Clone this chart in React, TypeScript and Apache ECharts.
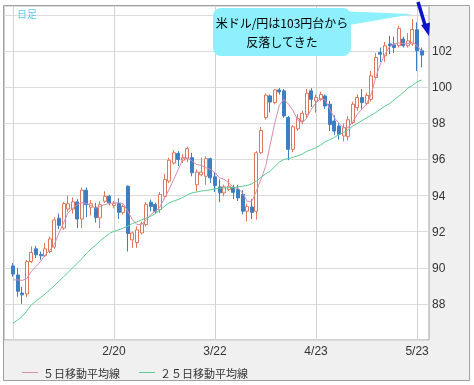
import React, { useEffect, useRef } from 'react';
import * as echarts from 'echarts';

// Daily USD/JPY candles, index 0 = 1/21 (trading days). [open, close, low, high]
const candles: number[][] = [
  [90.10, 89.65, 89.50, 90.26], [89.60, 88.70, 88.40, 89.98], [88.60, 88.50, 88.00, 88.95], [88.55, 90.35, 88.37, 90.44], [90.35, 90.85, 90.26, 91.18],
  [91.05, 90.72, 90.54, 91.22], [90.74, 90.66, 90.44, 90.90], [90.67, 91.05, 90.59, 91.37], [90.90, 91.60, 90.82, 91.74], [91.15, 92.65, 91.05, 92.80],
  [92.75, 92.35, 92.15, 93.00], [92.20, 93.55, 92.10, 93.65], [93.25, 93.55, 93.10, 94.00], [93.25, 93.65, 93.00, 93.90], [93.65, 92.70, 92.20, 93.80],
  [92.70, 94.30, 92.20, 94.45], [94.30, 93.50, 92.80, 94.45], [93.35, 93.55, 92.90, 93.75], [93.35, 92.78, 92.50, 93.60], [92.76, 93.50, 92.20, 93.68],
  [93.68, 93.96, 93.60, 94.24], [93.96, 93.60, 93.45, 94.05], [93.45, 93.55, 93.30, 93.70], [93.56, 93.07, 92.70, 93.85], [93.07, 93.40, 92.95, 93.50],
  [94.52, 91.90, 90.90, 94.56], [91.55, 91.93, 91.10, 92.00], [91.40, 92.10, 91.10, 92.30], [91.93, 92.44, 91.85, 92.55], [92.40, 93.50, 92.30, 93.65],
  [93.63, 93.40, 93.13, 93.78], [93.50, 93.13, 93.00, 93.60], [93.22, 94.06, 93.05, 94.20], [93.96, 94.90, 93.80, 95.20], [94.80, 95.96, 94.70, 96.10],
  [95.80, 96.37, 95.72, 96.52], [96.33, 96.00, 95.63, 96.46], [95.96, 96.10, 95.80, 96.30], [96.04, 96.60, 95.85, 96.70], [96.10, 95.26, 95.07, 96.37],
  [94.60, 95.30, 94.24, 95.44], [95.15, 95.30, 95.07, 96.10], [95.07, 96.04, 94.60, 96.18], [96.04, 94.98, 94.70, 96.10], [95.04, 94.56, 94.20, 95.30],
  [94.48, 94.15, 93.63, 94.90], [94.15, 94.48, 93.95, 94.60], [94.33, 94.52, 94.24, 94.93], [94.43, 94.18, 93.80, 94.60], [94.33, 93.87, 93.70, 94.60],
  [94.06, 93.13, 92.95, 94.30], [93.13, 93.40, 92.57, 93.55], [93.37, 93.07, 92.70, 93.80], [93.13, 96.37, 92.67, 96.46], [96.37, 97.60, 96.30, 97.80],
  [98.32, 99.56, 98.20, 99.65], [99.52, 99.18, 98.60, 99.60], [99.15, 99.85, 99.05, 99.90], [99.85, 99.74, 99.60, 99.95], [99.80, 98.41, 98.30, 99.90],
  [98.32, 96.56, 95.96, 98.41], [96.56, 97.81, 96.40, 97.90], [97.70, 98.26, 97.60, 98.50], [98.13, 98.56, 97.95, 98.70], [98.50, 99.67, 98.30, 99.90],
  [99.80, 99.33, 98.90, 99.95], [99.24, 99.43, 98.60, 99.60], [99.33, 99.60, 99.25, 99.75], [99.52, 98.96, 98.80, 99.60], [99.06, 97.94, 97.57, 99.24],
  [98.13, 97.57, 97.35, 98.45], [97.85, 97.39, 97.10, 98.00], [97.30, 97.76, 97.00, 98.00], [97.26, 98.20, 97.05, 98.40], [98.05, 99.06, 97.95, 99.20],
  [98.87, 99.43, 98.70, 99.60], [99.43, 99.15, 98.80, 99.90], [99.10, 99.55, 99.00, 99.70], [99.33, 100.63, 99.20, 100.90], [100.54, 101.65, 100.45, 101.90],
  [101.93, 101.83, 101.40, 102.20], [101.74, 102.30, 101.40, 102.50], [102.40, 102.30, 101.83, 102.85], [102.35, 102.20, 101.90, 102.80], [102.30, 103.26, 102.20, 103.40],
  [102.67, 102.30, 102.20, 102.80], [102.30, 102.57, 102.20, 103.00], [102.40, 103.20, 102.30, 103.78], [103.18, 102.02, 100.90, 103.60], [102.02, 101.78, 101.10, 102.20],
];

const ma5: number[] = [
  89.33, 89.33, 89.30, 89.40, 89.80, 90.07, 90.35, 90.72, 90.96, 91.28,
  91.93, 92.48, 93.04, 93.30, 93.50, 93.60, 93.57, 93.44, 93.30, 93.40,
  93.50, 93.56, 93.60, 93.60, 93.55, 93.13, 92.67, 92.39, 92.40, 92.67,
  92.94, 93.13, 93.37, 93.87, 94.33, 94.90, 95.44, 96.04, 96.10, 95.90,
  95.72, 95.67, 95.54, 95.45, 95.26, 94.98, 94.90, 94.70, 94.43, 94.40,
  94.15, 93.68, 93.68, 94.24, 94.90, 95.60, 96.80, 98.00, 99.00, 99.33,
  99.06, 98.70, 98.20, 98.04, 98.30, 98.80, 99.15, 99.37, 99.30, 98.78,
  98.30, 98.00, 97.76, 97.76, 98.10, 98.50, 98.80, 99.06, 99.60, 100.54,
  101.28, 101.83, 102.24, 102.40, 102.45, 102.42, 102.40, 102.50, 102.30, 102.00,
];

const ma25: number[] = [
  86.93, 87.10, 87.30, 87.60, 87.95, 88.15, 88.35, 88.55, 88.78, 89.00,
  89.25, 89.50, 89.75, 90.00, 90.25, 90.50, 90.80, 91.05, 91.25, 91.50,
  91.70, 91.90, 92.02, 92.10, 92.20, 92.30, 92.45, 92.55, 92.65, 92.75,
  92.85, 93.00, 93.20, 93.40, 93.60, 93.70, 93.78, 93.90, 94.05, 94.15,
  94.20, 94.25, 94.28, 94.32, 94.37, 94.40, 94.42, 94.43, 94.45, 94.48,
  94.52, 94.56, 94.65, 94.80, 95.00, 95.20, 95.35, 95.60, 95.85, 96.00,
  96.05, 96.12, 96.20, 96.30, 96.45, 96.55, 96.65, 96.80, 96.98, 97.10,
  97.22, 97.38, 97.50, 97.65, 97.85, 98.00, 98.15, 98.30, 98.45, 98.60,
  98.78, 98.95, 99.10, 99.30, 99.50, 99.70, 99.95, 100.10, 100.30, 100.40,
];

const tickIndex: number[] = [0, 22, 44, 66, 88];
const tickLabels: string[] = ['', '2/20', '3/22', '4/23', '5/23'];
const yLabelValues: number[] = [88, 90, 92, 94, 96, 98, 100, 102];
const seriesNames: string[] = ['５日移動平均線', '２５日移動平均線'];

const UP = '#e0765a';
const DOWN = '#3d7fc1';
const PINK = '#d88cae';
const GREEN = '#5ccd8f';
const CYAN = '#8ef0fd';

export default function App() {
  const ref = useRef<HTMLDivElement>(null);
  useEffect(() => {
    const chart = echarts.init(ref.current!, null, { renderer: 'svg' });
    const candleData = candles.map((c, i) => [i, c[0], c[1], c[2], c[3]]);
    chart.setOption({
      animation: false,
      grid: {
        left: 4, top: 6, width: 425, height: 334,
        show: true, backgroundColor: '#ffffff', borderColor: '#a0a0a0', borderWidth: 1,
      },
      legend: {
        data: seriesNames,
        left: 17, top: 362,
        icon: 'rect', itemWidth: 16, itemHeight: 1, itemGap: 19,
        textStyle: { color: '#333', fontSize: 11, fontFamily: 'Noto Sans CJK JP' },
      },
      xAxis: {
        type: 'value', min: -1.96, max: 90.6,
        axisLine: { show: false },
        axisTick: { show: false, customValues: tickIndex },
        axisLabel: {
          customValues: tickIndex, margin: 5,
          color: '#333', fontSize: 12, fontFamily: 'Liberation Sans',
          formatter: (v: number) => { const k = tickIndex.indexOf(Math.round(v)); return k >= 0 ? tickLabels[k] : ''; },
        },
        splitLine: { show: true, lineStyle: { color: '#d2d2d2', width: 1 } },
      },
      yAxis: {
        type: 'value', position: 'right', min: 86, max: 104.5, interval: 2,
        axisLine: { show: false }, axisTick: { show: false },
        axisLabel: {
          margin: 3, color: '#333', fontSize: 12, fontFamily: 'Liberation Sans',
          formatter: (v: number) => (yLabelValues.indexOf(v) >= 0 ? String(v) : ''),
        },
        splitLine: { show: true, lineStyle: { color: '#dcdcdc', width: 1 } },
      },
      series: [
        {
          type: 'candlestick', data: candleData, barWidth: 3.5,
          itemStyle: { color: '#ffffff', color0: DOWN, borderColor: UP, borderColor0: DOWN, borderWidth: 1 },
        },
        {
          name: seriesNames[0], type: 'line', data: ma5.map((v, i) => [i, v]), showSymbol: false,
          lineStyle: { color: PINK, width: 1 }, itemStyle: { color: PINK },
        },
        {
          name: seriesNames[1], type: 'line', data: ma25.map((v, i) => [i, v]), showSymbol: false,
          lineStyle: { color: GREEN, width: 1 }, itemStyle: { color: GREEN },
        },
      ],
      graphic: [
        { type: 'rect', z: -100, silent: true, shape: { x: 3.5, y: 5.5, width: 466, height: 375 }, style: { fill: '#f0f0f0', stroke: '#a0a0a0', lineWidth: 1 } },
        { type: 'text', z: 10, x: 17, y: 8, style: { text: '日足', fill: '#66c6ee', font: '10px "Noto Sans CJK JP"' } },
        { type: 'polygon', z: 10, shape: { points: [[338, 11], [413, 14], [338, 27]] }, style: { fill: CYAN } },
        { type: 'rect', z: 11, shape: { x: 213, y: 8, width: 138, height: 48, r: 8 }, style: { fill: CYAN } },
        { type: 'text', z: 12, x: 282, y: 22, style: { text: '米ドル/円は103円台から', fill: '#000', font: '12px "Noto Sans CJK JP"', textAlign: 'center', textVerticalAlign: 'middle', align: 'center', verticalAlign: 'middle' } },
        { type: 'text', z: 12, x: 282, y: 41, style: { text: '反落してきた', fill: '#000', font: '12px "Noto Sans CJK JP"', textAlign: 'center', textVerticalAlign: 'middle', align: 'center', verticalAlign: 'middle' } },
        { type: 'line', z: 12, shape: { x1: 418, y1: 2, x2: 425, y2: 25 }, style: { stroke: '#0a14c8', lineWidth: 3.5 } },
        { type: 'polygon', z: 12, shape: { points: [[421, 25], [430, 22.5], [429, 36]] }, style: { fill: '#0a14c8' } },
      ],
    });
    return () => chart.dispose();
  }, []);
  return <div ref={ref} style={{ position: 'fixed', left: 0, top: 0, width: 474, height: 385 }} />;
}
